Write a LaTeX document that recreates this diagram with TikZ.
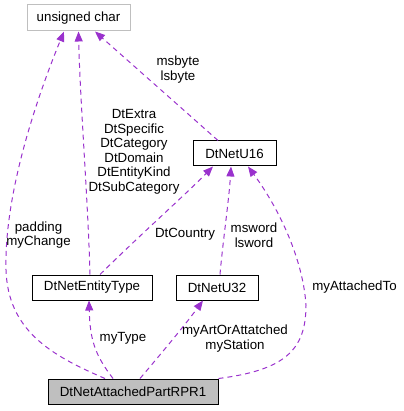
\documentclass[tikz,border=0pt]{standalone}
\usepackage{fontspec}
\setmainfont{Liberation Sans}
\usetikzlibrary{arrows.meta}
\definecolor{usageColor}{RGB}{154,50,205}
\definecolor{builtinColor}{RGB}{191,191,191}
\definecolor{mainFill}{RGB}{191,191,191}
\newcommand{\dotFont}{\fontsize{13.3}{14.5}\selectfont}
\tikzstyle{diagram} = [x = 1pt, y = -1pt]
\tikzstyle{classBox} = [draw=black, fill=white, line width=1pt, inner sep=0pt, minimum height=25pt, font=\dotFont]
\tikzstyle{builtinBox} = [classBox, draw=builtinColor, minimum height=26pt]
\tikzstyle{mainBox} = [classBox, fill=mainFill]
\tikzstyle{usage} = [color=usageColor, line width=1pt, dash pattern=on 5pt off 4pt, -{Triangle[length=10pt,width=8pt]}]
\tikzstyle{usageText} = [font=\dotFont, align=center, inner sep=0pt]
\begin{document}
\begin{tikzpicture}[diagram]
    \useasboundingbox (0,0) rectangle (403,411);
    % classes
    \node [builtinBox, minimum width=103pt] (uchar) at (78.5,18) {unsigned char};
    \node [classBox, minimum width=83pt] (u16) at (234.5,153.5) {DtNetU16};
    \node [classBox, minimum width=120pt] (entity) at (92,287.5) {DtNetEntityType};
    \node [classBox, minimum width=82pt] (u32) at (217,287.5) {DtNetU32};
    \node [mainBox, minimum width=170pt] (part) at (133,391.5) {DtNetAttachedPartRPR1};
    % usage edges
    \draw [usage] ([xshift=-28pt]part.north) .. controls (50,355) and (8,330) .. (6,270)
        .. controls (4,190) and (40,90) .. ([xshift=-14.5pt]uchar.south);
    \draw [usage] ([xshift=-2pt]entity.north) .. controls (88,200) and (80,100) .. (uchar.south);
    \draw [usage] ([xshift=-16.5pt]u16.north) -- ([xshift=16.5pt]uchar.south);
    \draw [usage] ([xshift=8pt]entity.north) .. controls (140,235) and (185,195) .. ([xshift=-21.5pt]u16.south);
    \draw [usage] ([xshift=3pt]u32.north) .. controls (223,240) and (229,200) .. ([xshift=-3.5pt]u16.south);
    \draw [usage] (part.north east) .. controls (285,370) and (306,350) .. (306,305)
        .. controls (303,260) and (280,210) .. ([xshift=13.5pt]u16.south);
    \draw [usage] ([xshift=-20pt]part.north) .. controls (95,355) and (90,340) .. ([xshift=-3pt]entity.south);
    \draw [usage] ([xshift=7pt]part.north) .. controls (160,355) and (185,325) .. ([xshift=-14pt]u32.south);
    % labels
    \node [usageText] (paddingText) at (38.5,235) {padding\\myChange};
    \node [usageText] (kindText) at (134,152) {DtExtra\\DtSpecific\\DtCategory\\DtDomain\\DtEntityKind\\DtSubCategory};
    \node [usageText] (byteText) at (178,69.5) {msbyte\\lsbyte};
    \node [usageText] (countryText) at (185,234) {DtCountry};
    \node [usageText] (wordText) at (254,235) {msword\\lsword};
    \node [usageText] (attachedText) at (354.5,287) {myAttachedTo};
    \node [usageText] (typeText) at (123,338) {myType};
    \node [usageText] (stationText) at (235,338.5) {myArtOrAttatched\\myStation};
\end{tikzpicture}
\end{document}
